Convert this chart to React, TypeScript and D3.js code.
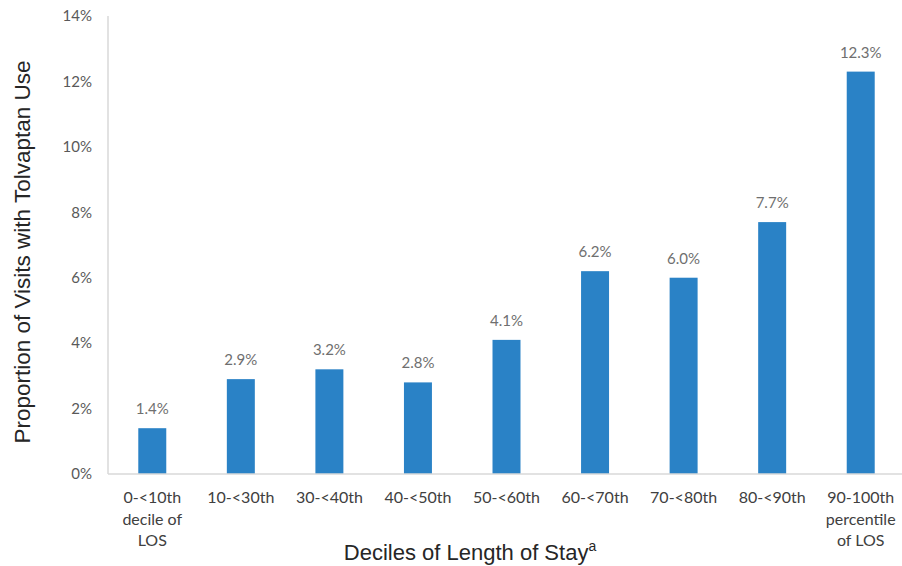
import React from 'react';
import * as d3 from 'd3';

const categories = [
  ['0-<10th', 'decile of', 'LOS'],
  ['10-<30th'],
  ['30-<40th'],
  ['40-<50th'],
  ['50-<60th'],
  ['60-<70th'],
  ['70-<80th'],
  ['80-<90th'],
  ['90-100th', 'percentile', 'of LOS'],
];
const values = [1.4, 2.9, 3.2, 2.8, 4.1, 6.2, 6.0, 7.7, 12.3];
const yTicks = [0, 2, 4, 6, 8, 10, 12, 14];

const width = 902;
const height = 566;
const margin = { top: 16, right: 0, bottom: 92, left: 108 };

const App: React.FC = () => {
  const keys = categories.map((c, i) => String(i));

  const xScale = d3.scaleBand()
    .domain(keys)
    .range([margin.left, 905])
    .paddingInner(0.684)
    .paddingOuter(0.342);

  const yScale = d3.scaleLinear()
    .domain([0, 14])
    .range([height - margin.bottom, margin.top]);

  const tickFont = 'Lato, "Open Sans", sans-serif';
  const titleFont = '"Liberation Sans", Arial, sans-serif';
  const cx = (i: number) => (xScale(String(i)) || 0) + xScale.bandwidth() / 2;

  return (
    <svg width={width} height={height} style={{ position: 'absolute', left: 0, top: 0, background: '#fff' }}>
      {/* y ticks */}
      {yTicks.map(t => (
        <text key={t} x={92} y={yScale(t)} dy="0.35em" textAnchor="end"
          fontFamily={tickFont} fontSize={15} fill="#595959">{t}%</text>
      ))}

      {/* bars */}
      {values.map((v, i) => (
        <g key={i}>
          <rect x={xScale(String(i))} y={yScale(v)} width={xScale.bandwidth()}
            height={yScale(0) - yScale(v)} fill="#2a82c6" />
          <text x={cx(i)} y={yScale(v) - 14}
            textAnchor="middle" fontFamily={tickFont} fontSize={15} fill="#6f6f6f">
            {v.toFixed(1)}%
          </text>
        </g>
      ))}

      {/* axes lines */}
      <line x1={margin.left} x2={margin.left} y1={margin.top} y2={yScale(0)} stroke="#d9d9d9" strokeWidth={1.5} />
      <line x1={margin.left} x2={902} y1={yScale(0)} y2={yScale(0)} stroke="#d9d9d9" strokeWidth={1.5} />

      {/* x tick labels */}
      {categories.map((lines, i) => (
        <text key={i} x={cx(i)} y={503}
          textAnchor="middle" fontFamily={tickFont} fontSize={16} fill="#404040">
          {lines.map((l, j) => (
            <tspan key={j} x={cx(i)} dy={j === 0 ? 0 : 21.7}>{l}</tspan>
          ))}
        </text>
      ))}

      {/* axis titles */}
      <text transform={`translate(30,252) rotate(-90)`} textAnchor="middle"
        fontFamily={titleFont} fontSize={22.5} fill="#262626">
        Proportion of Visits with Tolvaptan Use
      </text>
      <text x={470} y={560} textAnchor="middle" fontFamily={titleFont} fontSize={22} fill="#262626">
        Deciles of Length of Stay<tspan fontSize={14} dy={-9}>a</tspan>
      </text>
    </svg>
  );
};

export default App;
